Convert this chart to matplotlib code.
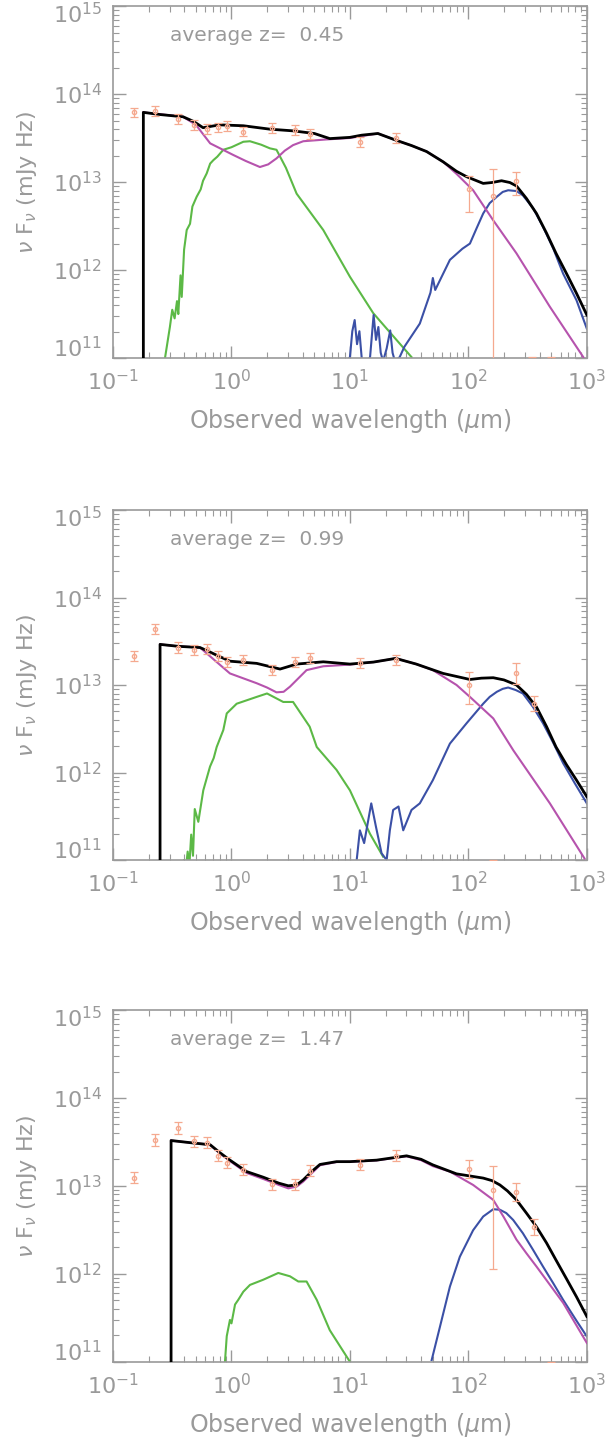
import numpy as np
import matplotlib
matplotlib.use("Agg")
import matplotlib.pyplot as plt
from matplotlib.ticker import LogLocator, NullFormatter
from matplotlib.transforms import ScaledTranslation

# all values are log10(wavelength/um), log10(nuFnu/mJy Hz)
redshifts = ["0.45", "0.99", "1.47"]

# ---- panel 1 (z=0.45)
p1_obs_x = [-0.825, -0.646, -0.451, -0.316, -0.204, -0.116, -0.04, 0.097, 0.342, 0.533, 0.665, 1.084, 1.386, 2.004, 2.21, 2.40, 2.54, 2.70]
p1_obs_y = [13.792, 13.810, 13.715, 13.650, 13.601, 13.621, 13.640, 13.572, 13.617, 13.591, 13.545, 13.455, 13.497, 12.917, 12.844, 13.015, 10.914, 10.914]
p1_err_lo = [0.054, 0.054, 0.054, 0.054, 0.054, 0.054, 0.054, 0.054, 0.054, 0.054, 0.054, 0.054, 0.058, 0.26, 2.5, 0.165, 0.2, 0.2]
p1_err_hi = [0.054, 0.054, 0.054, 0.054, 0.054, 0.054, 0.054, 0.054, 0.054, 0.054, 0.054, 0.054, 0.058, 0.155, 0.31, 0.10, 0.10, 0.10]
p1_tot_x = [-0.744, -0.744, -0.60, -0.409, -0.32, -0.24, -0.10, 0.10, 0.325, 0.52, 0.70, 0.83, 1.0, 1.10, 1.236, 1.386, 1.52, 1.647, 1.787, 1.90, 1.985, 2.125, 2.20, 2.28, 2.35, 2.406, 2.49, 2.575, 2.66, 2.74, 2.829, 2.913, 3.0]
p1_tot_y = [10.0, 13.792, 13.767, 13.742, 13.689, 13.618, 13.650, 13.640, 13.601, 13.582, 13.552, 13.494, 13.508, 13.533, 13.552, 13.477, 13.415, 13.347, 13.230, 13.122, 13.061, 12.985, 12.995, 13.015, 12.995, 12.956, 12.814, 12.643, 12.419, 12.190, 11.959, 11.735, 11.490]
p1_agn_x = [-0.744, -0.409, -0.30, -0.18, 0.015, 0.12, 0.24, 0.31, 0.38, 0.45, 0.52, 0.606, 0.8, 1.0, 1.236, 1.386, 1.52, 1.647, 1.787, 1.90, 2.04, 2.21, 2.406, 2.688, 2.97]
p1_agn_y = [13.792, 13.742, 13.650, 13.440, 13.308, 13.240, 13.171, 13.201, 13.269, 13.357, 13.420, 13.464, 13.484, 13.501, 13.552, 13.477, 13.415, 13.347, 13.230, 13.093, 12.907, 12.565, 12.190, 11.583, 11.011]
p1_star_x = [-0.56, -0.52, -0.50, -0.48, -0.46, -0.449, -0.43, -0.42, -0.40, -0.378, -0.35, -0.33, -0.294, -0.26, -0.24, -0.209, -0.18, -0.153, -0.12, -0.069, 0.0, 0.1, 0.156, 0.25, 0.325, 0.38, 0.46, 0.55, 0.775, 1.0, 1.197, 1.394, 1.52]
p1_star_y = [11.011, 11.353, 11.549, 11.451, 11.647, 11.500, 11.940, 11.695, 12.233, 12.455, 12.526, 12.722, 12.833, 12.917, 13.015, 13.099, 13.210, 13.249, 13.288, 13.367, 13.396, 13.458, 13.464, 13.425, 13.383, 13.367, 13.161, 12.868, 12.455, 11.924, 11.510, 11.205, 11.011]
p1_dust_x = [0.95, 1.0, 1.02, 1.04, 1.06, 1.08, 1.10, 1.12, 1.17, 1.20, 1.22, 1.24, 1.26, 1.28, 1.31, 1.34, 1.36, 1.38, 1.42, 1.46, 1.59, 1.68, 1.70, 1.72, 1.844, 1.95, 2.013, 2.07, 2.125, 2.18, 2.24, 2.29, 2.336, 2.406, 2.46, 2.547, 2.63, 2.716, 2.80, 2.913, 3.0]
p1_dust_y = [10.914, 11.011, 11.305, 11.432, 11.158, 11.305, 10.992, 10.914, 11.011, 11.490, 11.207, 11.353, 11.060, 10.963, 11.109, 11.314, 11.060, 10.963, 11.011, 11.129, 11.392, 11.744, 11.910, 11.774, 12.116, 12.243, 12.301, 12.477, 12.643, 12.761, 12.833, 12.888, 12.907, 12.898, 12.849, 12.702, 12.492, 12.247, 11.959, 11.656, 11.334]

# ---- panel 2 (z=0.99)
p2_obs_x = [-0.825, -0.646, -0.451, -0.316, -0.204, -0.116, -0.04, 0.097, 0.342, 0.533, 0.665, 1.084, 1.386, 2.004, 2.21, 2.406, 2.553]
p2_obs_y = [13.335, 13.640, 13.429, 13.399, 13.409, 13.331, 13.266, 13.286, 13.171, 13.266, 13.312, 13.248, 13.286, 13.001, 10.903, 13.133, 12.787]
p2_err_lo = [0.058, 0.058, 0.058, 0.058, 0.058, 0.058, 0.058, 0.058, 0.058, 0.058, 0.058, 0.058, 0.058, 0.215, 0.2, 0.12, 0.088]
p2_err_hi = [0.058, 0.058, 0.058, 0.058, 0.058, 0.058, 0.058, 0.058, 0.058, 0.058, 0.058, 0.058, 0.058, 0.145, 0.10, 0.12, 0.088]
p2_tot_x = [-0.603, -0.603, -0.45, -0.266, -0.20, -0.125, -0.013, 0.213, 0.41, 0.55, 0.775, 1.0, 1.20, 1.386, 1.56, 1.787, 2.013, 2.11, 2.21, 2.30, 2.406, 2.49, 2.575, 2.66, 2.74, 2.829, 2.913, 3.0]
p2_tot_y = [10.0, 13.465, 13.443, 13.429, 13.390, 13.341, 13.273, 13.248, 13.183, 13.240, 13.266, 13.240, 13.263, 13.305, 13.240, 13.133, 13.064, 13.079, 13.084, 13.059, 13.001, 12.894, 12.749, 12.525, 12.292, 12.088, 11.913, 11.724]
p2_agn_x = [-0.603, -0.45, -0.266, -0.15, -0.013, 0.213, 0.30, 0.38, 0.44, 0.494, 0.634, 0.775, 1.0, 1.20, 1.386, 1.56, 1.70, 1.90, 2.013, 2.21, 2.38, 2.688, 2.98]
p2_agn_y = [13.465, 13.443, 13.429, 13.293, 13.133, 13.021, 12.972, 12.917, 12.923, 12.982, 13.171, 13.215, 13.234, 13.263, 13.305, 13.240, 13.171, 13.001, 12.865, 12.619, 12.253, 11.648, 11.019]
p2_star_x = [-0.40, -0.385, -0.37, -0.355, -0.34, -0.325, -0.31, -0.28, -0.238, -0.181, -0.15, -0.125, -0.069, -0.04, 0.044, 0.213, 0.30, 0.437, 0.52, 0.66, 0.72, 0.887, 1.0, 1.169, 1.28]
p2_star_y = [11.000, 10.903, 11.097, 10.951, 11.291, 11.049, 11.583, 11.437, 11.797, 12.069, 12.166, 12.292, 12.486, 12.676, 12.787, 12.865, 12.904, 12.807, 12.807, 12.525, 12.292, 12.030, 11.797, 11.301, 11.039]
p2_dust_x = [1.057, 1.084, 1.12, 1.18, 1.22, 1.267, 1.31, 1.337, 1.365, 1.41, 1.45, 1.52, 1.59, 1.70, 1.844, 1.985, 2.125, 2.18, 2.24, 2.29, 2.336, 2.40, 2.46, 2.546, 2.63, 2.716, 2.80, 2.90, 3.0]
p2_dust_y = [11.000, 11.340, 11.194, 11.648, 11.379, 11.078, 11.000, 11.340, 11.573, 11.612, 11.340, 11.573, 11.648, 11.913, 12.331, 12.564, 12.787, 12.865, 12.923, 12.957, 12.972, 12.943, 12.904, 12.749, 12.564, 12.341, 12.107, 11.874, 11.648]

# ---- panel 3 (z=1.47)
p3_obs_x = [-0.825, -0.646, -0.451, -0.316, -0.204, -0.116, -0.04, 0.097, 0.342, 0.533, 0.665, 1.084, 1.386, 2.004, 2.21, 2.40, 2.553, 2.70]
p3_obs_y = [13.095, 13.522, 13.659, 13.507, 13.492, 13.344, 13.264, 13.186, 13.021, 13.021, 13.171, 13.239, 13.341, 13.193, 12.953, 12.933, 12.535, 10.903]
p3_err_lo = [0.063, 0.063, 0.063, 0.063, 0.063, 0.063, 0.063, 0.063, 0.063, 0.063, 0.063, 0.063, 0.063, 0.107, 0.9, 0.1, 0.088, 0.2]
p3_err_hi = [0.063, 0.063, 0.063, 0.063, 0.063, 0.063, 0.063, 0.063, 0.063, 0.063, 0.063, 0.063, 0.063, 0.107, 0.27, 0.1, 0.088, 0.10]
p3_tot_x = [-0.51, -0.51, -0.35, -0.18, -0.10, -0.013, 0.128, 0.268, 0.40, 0.48, 0.55, 0.606, 0.68, 0.747, 0.887, 1.0, 1.225, 1.478, 1.60, 1.70, 1.90, 2.125, 2.20, 2.266, 2.33, 2.406, 2.49, 2.575, 2.66, 2.74, 2.829, 2.913, 3.0]
p3_tot_y = [10.0, 13.516, 13.492, 13.468, 13.380, 13.293, 13.163, 13.099, 13.031, 13.001, 13.011, 13.069, 13.167, 13.244, 13.276, 13.276, 13.293, 13.342, 13.303, 13.239, 13.137, 13.089, 13.060, 13.011, 12.943, 12.841, 12.691, 12.535, 12.351, 12.156, 11.942, 11.738, 11.515]
p3_agn_x = [-0.51, -0.35, -0.18, -0.10, -0.013, 0.128, 0.268, 0.40, 0.48, 0.55, 0.606, 0.68, 0.747, 0.887, 1.0, 1.225, 1.478, 1.60, 1.70, 1.844, 2.04, 2.21, 2.30, 2.406, 2.49, 2.575, 2.80, 3.0]
p3_agn_y = [13.516, 13.492, 13.468, 13.371, 13.283, 13.147, 13.079, 13.011, 12.972, 12.992, 13.050, 13.147, 13.235, 13.272, 13.274, 13.290, 13.337, 13.293, 13.225, 13.163, 13.011, 12.841, 12.642, 12.389, 12.234, 12.083, 11.670, 11.214]
p3_star_x = [-0.055, -0.04, -0.013, 0.0, 0.03, 0.057, 0.10, 0.156, 0.268, 0.395, 0.494, 0.564, 0.634, 0.72, 0.83, 1.0]
p3_star_y = [11.000, 11.291, 11.476, 11.437, 11.651, 11.704, 11.797, 11.874, 11.933, 12.010, 11.972, 11.913, 11.913, 11.704, 11.359, 11.000]
p3_dust_x = [1.69, 1.76, 1.844, 1.928, 2.04, 2.125, 2.21, 2.266, 2.32, 2.378, 2.46, 2.546, 2.63, 2.716, 2.80, 2.913, 3.0]
p3_dust_y = [11.019, 11.398, 11.855, 12.195, 12.496, 12.652, 12.735, 12.729, 12.691, 12.613, 12.462, 12.273, 12.083, 11.894, 11.704, 11.466, 11.288]

panels = [
    (p1_obs_x, p1_obs_y, p1_err_lo, p1_err_hi, p1_tot_x, p1_tot_y, p1_agn_x, p1_agn_y,
     p1_star_x, p1_star_y, p1_dust_x, p1_dust_y),
    (p2_obs_x, p2_obs_y, p2_err_lo, p2_err_hi, p2_tot_x, p2_tot_y, p2_agn_x, p2_agn_y,
     p2_star_x, p2_star_y, p2_dust_x, p2_dust_y),
    (p3_obs_x, p3_obs_y, p3_err_lo, p3_err_hi, p3_tot_x, p3_tot_y, p3_agn_x, p3_agn_y,
     p3_star_x, p3_star_y, p3_dust_x, p3_dust_y),
]

gray = "#9a9a9a"
c_obs = "#f5a98f"
c_star = "#5cb946"
c_agn = "#b653ad"
c_dust = "#3b50a6"

fig = plt.figure(figsize=(6.09, 14.45), dpi=100)
# axes boxes in figure fractions (left, bottom, width, height)
boxes = [(0.1856, 0.7522, 0.778, 0.2436),
         (0.1856, 0.4048, 0.778, 0.2422),
         (0.1856, 0.0576, 0.778, 0.2434)]

axes = []
for i, (ox, oy, elo, ehi, tx, ty, ax_, ay, sx, sy, dx, dy) in enumerate(panels):
    ax = fig.add_axes(boxes[i])
    axes.append(ax)
    ax.set_xscale("log")
    ax.set_yscale("log")
    ax.set_xlim(0.1, 1000)
    ax.set_ylim(1e11, 1e15)

    p = lambda a: 10 ** np.array(a)
    ax.plot(p(sx), p(sy), color=c_star, lw=1.5, zorder=2)
    ax.plot(p(dx), p(dy), color=c_dust, lw=1.5, zorder=2)
    ax.plot(p(ax_), p(ay), color=c_agn, lw=1.5, zorder=3)
    ax.plot(p(tx), p(ty), color="black", lw=2.0, zorder=4)

    yv = p(oy)
    lo = yv - p(np.array(oy) - np.array(elo))
    hi = p(np.array(oy) + np.array(ehi)) - yv
    ax.errorbar(p(ox), yv, yerr=[lo, hi], fmt="o", ms=3, mfc="none", mec=c_obs,
                ecolor=c_obs, elinewidth=0.9, capsize=2.6, capthick=0.9, zorder=5)

    ax.text(0.12, 0.915, "average z=  " + redshifts[i], transform=ax.transAxes,
            fontsize=14.5, color=gray, va="center", ha="left")

    for s in ax.spines.values():
        s.set_color(gray)
        s.set_linewidth(1.2)
    ax.xaxis.set_major_locator(LogLocator(base=10, numticks=10))
    ax.xaxis.set_minor_locator(LogLocator(base=10, subs=np.arange(2, 10), numticks=20))
    ax.yaxis.set_major_locator(LogLocator(base=10, numticks=10))
    ax.yaxis.set_minor_locator(LogLocator(base=10, subs=np.arange(2, 10), numticks=20))
    ax.xaxis.set_minor_formatter(NullFormatter())
    ax.yaxis.set_minor_formatter(NullFormatter())
    ax.tick_params(which="both", direction="in", top=True, right=True, color=gray,
                   labelcolor=gray, labelsize=16)
    ax.tick_params(which="major", length=9, width=1.0, pad=8)
    ax.tick_params(which="minor", length=4.5, width=0.8)
    ax.set_xlabel(r"Observed wavelength ($\mu$m)", fontsize=17, color=gray, labelpad=9)
    ax.set_ylabel(r"$\nu$ F$_\nu$ (mJy Hz)", fontsize=16, color=gray, labelpad=10)

# the end labels of the y axis sit a little inside the frame, as in the original
fig.canvas.draw()
for ax in axes:
    for tick in ax.yaxis.get_major_ticks():
        loc = tick.get_loc()
        if np.isclose(loc, 1e15):
            shift = -0.07
        elif np.isclose(loc, 1e11):
            shift = 0.11
        else:
            continue
        tick.label1.set_transform(tick.label1.get_transform() +
                                  ScaledTranslation(0, shift, fig.dpi_scale_trans))

plt.savefig("out.png", dpi=100)
